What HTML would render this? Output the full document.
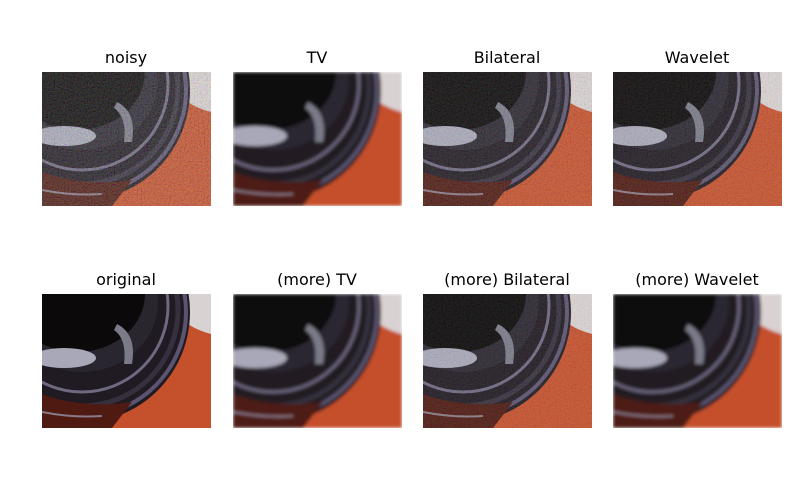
<!DOCTYPE html>
<html><head><meta charset="utf-8"><style>
body{margin:0;background:#fff;}
svg{display:block}
text{font-family:"DejaVu Sans","Liberation Sans",sans-serif;font-size:16px;fill:#000;text-anchor:middle}
</style></head><body>
<svg width="800" height="500" viewBox="0 0 800 500">
<defs>
<symbol id="img" viewBox="0 0 169 134">
<rect width="169" height="134" fill="#c4502c"/>
<path d="M128 0 H169 V40 Q150 35 140 25 Z" fill="#d9d2d2"/>
<ellipse cx="40" cy="18" rx="108" ry="110" fill="#201a22"/>
<ellipse cx="40" cy="18" rx="104" ry="104" fill="none" stroke="#5a5470" stroke-width="4"/>
<ellipse cx="40" cy="16" rx="96" ry="96" fill="none" stroke="#36303e" stroke-width="5"/>
<ellipse cx="40" cy="12" rx="86" ry="86" fill="none" stroke="#6e6880" stroke-width="3"/>
<ellipse cx="40" cy="8" rx="76" ry="70" fill="#2a2630"/>
<ellipse cx="35" cy="0" rx="68" ry="58" fill="#0b0909"/>
<ellipse cx="22" cy="64" rx="32" ry="10" fill="#a8a8b8"/>
<path d="M75 30 Q95 40 90 70 L82 70 Q85 45 72 36 Z" fill="#7a7a88"/>
<path d="M0 100 Q40 115 90 108 L70 134 H0 Z" fill="#4e1a12"/>
<path d="M0 118 Q30 124 60 122" fill="none" stroke="#8a7a88" stroke-width="2"/>
</symbol>
<filter id="noise" x="0" y="0" width="100%" height="100%">
<feTurbulence type="fractalNoise" baseFrequency="0.7" numOctaves="1" seed="3"/>
<feColorMatrix type="matrix" values="2.2 0 0 0 -0.6 0 2.2 0 0 -0.6 0 0 2.2 0 -0.6 0 0 0 0 0.22"/>
</filter>
<filter id="blur"><feGaussianBlur stdDeviation="1.5"/></filter>
<clipPath id="c1"><rect x="233" y="72" width="169" height="134"/></clipPath>
<clipPath id="c2"><rect x="233" y="294" width="169" height="134"/></clipPath>
<clipPath id="c3"><rect x="613" y="294" width="169" height="134"/></clipPath>
</defs>
<g>
<text x="126" y="63">noisy</text>
<use href="#img" x="42" y="72" width="169" height="134"/>
<rect x="42" y="72" width="169" height="134" filter="url(#noise)"/>
</g>
<g>
<text x="317" y="63">TV</text>
<g clip-path="url(#c1)"><use href="#img" x="233" y="72" width="169" height="134" filter="url(#blur)"/></g>
</g>
<g>
<text x="507" y="63">Bilateral</text>
<use href="#img" x="423" y="72" width="169" height="134"/>
<rect x="423" y="72" width="169" height="134" filter="url(#noise)" opacity="0.7"/>
</g>
<g>
<text x="697" y="63">Wavelet</text>
<use href="#img" x="613" y="72" width="169" height="134"/>
<rect x="613" y="72" width="169" height="134" filter="url(#noise)" opacity="0.6"/>
</g>
<g>
<text x="126" y="285">original</text>
<use href="#img" x="42" y="294" width="169" height="134"/>
</g>
<g>
<text x="317" y="285">(more) TV</text>
<g clip-path="url(#c2)"><use href="#img" x="233" y="294" width="169" height="134" filter="url(#blur)"/></g>
</g>
<g>
<text x="507" y="285">(more) Bilateral</text>
<use href="#img" x="423" y="294" width="169" height="134"/>
<rect x="423" y="294" width="169" height="134" filter="url(#noise)" opacity="0.5"/>
</g>
<g>
<text x="697" y="285">(more) Wavelet</text>
<g clip-path="url(#c3)"><use href="#img" x="613" y="294" width="169" height="134" filter="url(#blur)"/></g>
</g>
</svg>
</body></html>
